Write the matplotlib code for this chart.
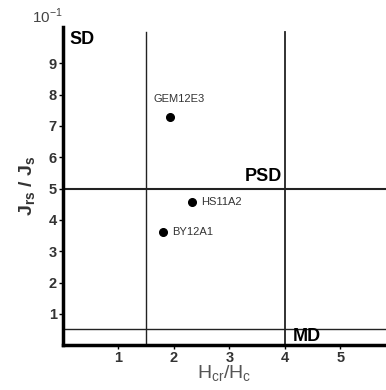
import numpy as np
import matplotlib.pyplot as plt

plt.rcParams['font.family'] = ['Liberation Sans', 'DejaVu Sans']
plt.rcParams['mathtext.fontset'] = 'custom'
plt.rcParams['mathtext.rm'] = 'Liberation Sans'
plt.rcParams['mathtext.bf'] = 'Liberation Sans:bold'

# samples (Hcr/Hc, Jrs/Js x10)
names = ['GEM12E3', 'HS11A2', 'BY12A1']
hcr_hc = [1.93, 2.33, 1.80]
jrs_js = [7.28, 4.58, 3.62]

# Day plot domain boundaries
hcr_bounds = [1.5, 4.0]
jrs_bounds = [5.0, 0.5]

fig = plt.figure(figsize=(3.86, 3.90), dpi=100)
ax = fig.add_axes([0.162, 0.115, 0.838, 0.816])

ax.set_xlim(0, 5.82)
ax.set_ylim(0, 10.16)

for x in hcr_bounds:
    ax.plot([x, x], [0, 10], c='#222222', lw=1.3 if x > 2 else 1.0)
for y in jrs_bounds:
    ax.axhline(y, c='#222222', lw=1.5 if y > 1 else 1.0)

ax.plot(hcr_hc, jrs_js, 'o', c='k', ms=5.5)
ax.text(hcr_hc[0] - 0.3, jrs_js[0] + 0.42, names[0], fontsize=8, color='#333333', va='bottom')
ax.text(hcr_hc[1] + 0.17, jrs_js[1], names[1], fontsize=8, color='#333333', va='center')
ax.text(hcr_hc[2] + 0.17, jrs_js[2], names[2], fontsize=8, color='#333333', va='center')

ax.text(0.12, 9.75, 'SD', fontsize=13, fontweight='bold', va='center')
ax.text(3.95, 5.12, 'PSD', fontsize=13, fontweight='bold', ha='right', va='bottom')
ax.text(4.15, 0.0, 'MD', fontsize=13, fontweight='bold', va='bottom')

ax.spines['top'].set_visible(False)
ax.spines['right'].set_visible(False)
ax.spines['left'].set_linewidth(2.5)
ax.spines['bottom'].set_linewidth(2.5)

ax.set_xticks([1, 2, 3, 4, 5])
ax.set_yticks(np.arange(1, 10))
ax.tick_params(length=3, width=1, labelsize=10.5, pad=1)
for lab in ax.get_xticklabels() + ax.get_yticklabels():
    lab.set_fontweight('bold')
    lab.set_color('#333333')

ax.set_xlabel(r'H$_{\mathrm{cr}}$/H$_{\mathrm{c}}$', fontsize=14, color='#555555', labelpad=-1)
ax.set_ylabel(r'J$_{\mathbf{rs}}$ / J$_{\mathbf{s}}$', fontsize=14, fontweight='bold',
              color='#333333', labelpad=8)
fig.text(0.083, 0.94, r'10$^{\mathrm{-1}}$', fontsize=11, color='#444444')

fig.savefig('out.png', dpi=100)
